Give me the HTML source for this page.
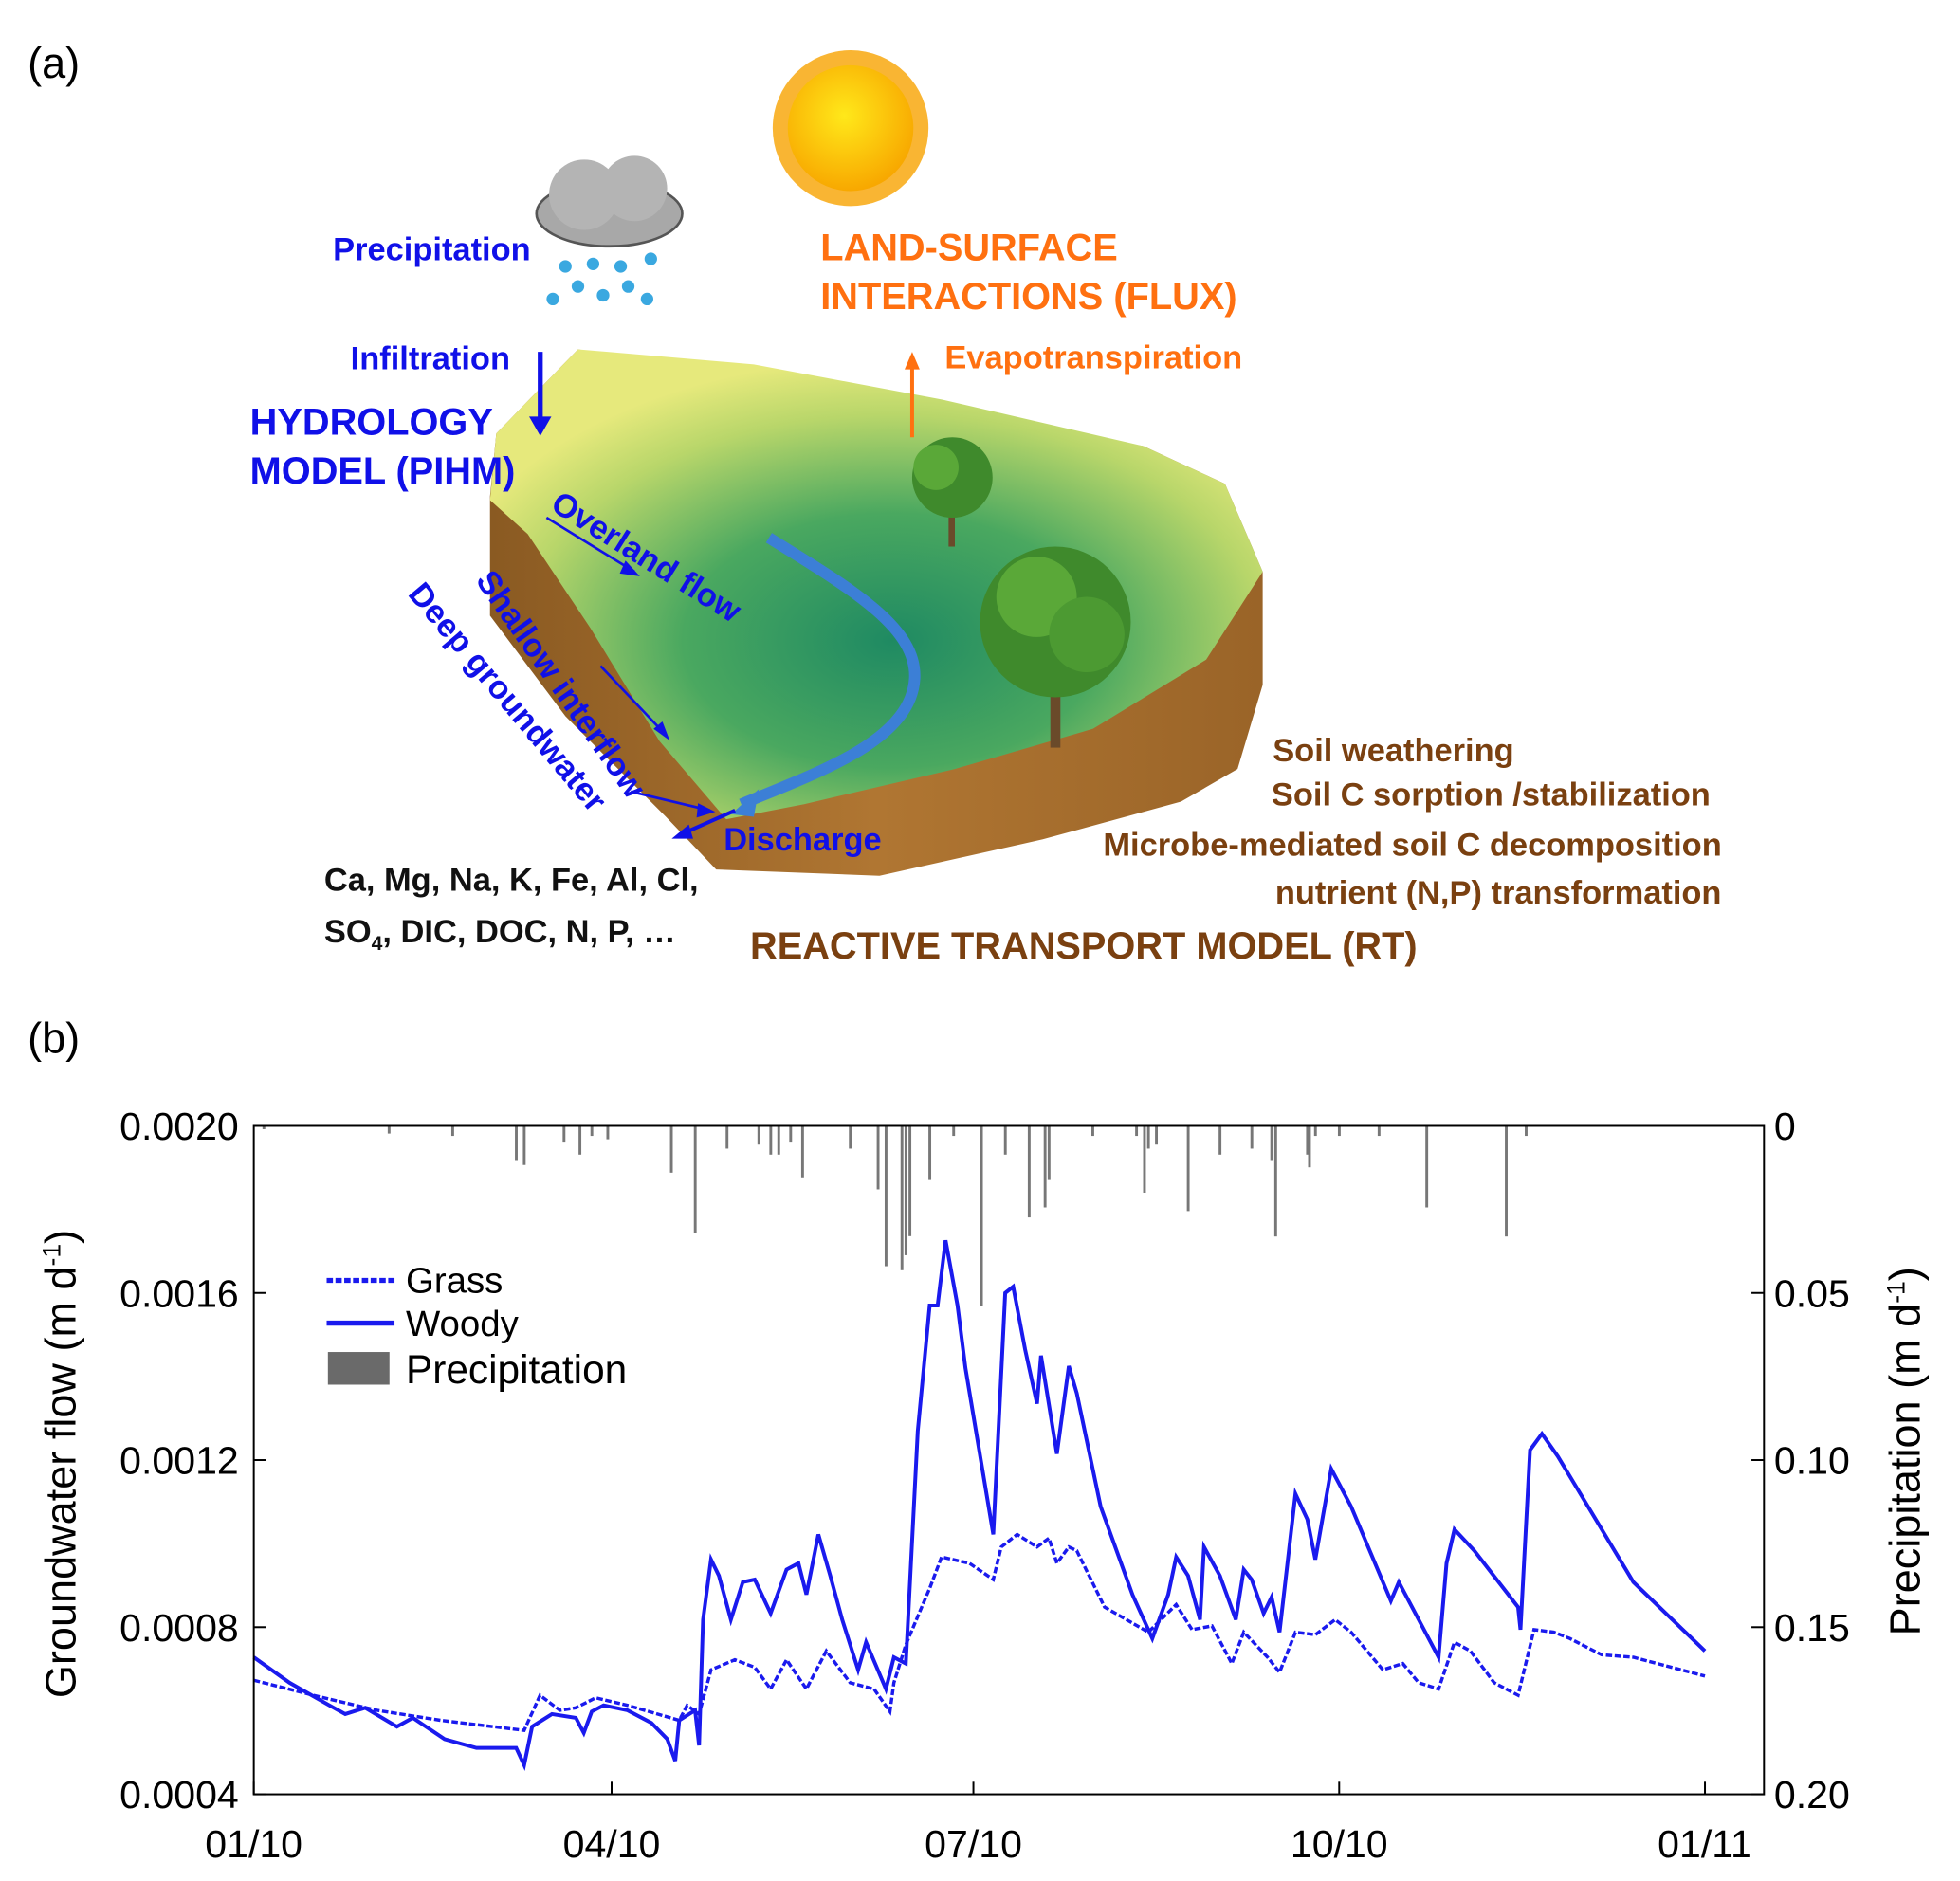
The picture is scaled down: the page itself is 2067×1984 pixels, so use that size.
<!DOCTYPE html>
<html><head><meta charset="utf-8"><style>
html,body{margin:0;padding:0;background:#fff;}
svg{display:block;font-family:"Liberation Sans",Arial,sans-serif;}
</style></head><body>
<svg id="fig" width="2067" height="1984" viewBox="0 0 1560 1497" preserveAspectRatio="none" xmlns="http://www.w3.org/2000/svg">
<defs>
<radialGradient id="gsurf" cx="0.52" cy="0.62" r="0.6">
<stop offset="0" stop-color="#1f8a62"/><stop offset="0.45" stop-color="#4aa860"/><stop offset="0.8" stop-color="#b8d66a"/><stop offset="1" stop-color="#e6e97c"/>
</radialGradient>
<linearGradient id="gsoil" x1="0" y1="0" x2="1" y2="0">
<stop offset="0" stop-color="#8a5a22"/><stop offset="0.5" stop-color="#b07632"/><stop offset="1" stop-color="#9a6428"/>
</linearGradient>
<radialGradient id="gsun" cx="0.45" cy="0.4" r="0.6"><stop offset="0" stop-color="#ffe81a"/><stop offset="1" stop-color="#f8a800"/></radialGradient>
</defs>
<text x="22" y="62" font-size="34">(a)</text>
<text x="22" y="838" font-size="34">(b)</text>

<g>
<polygon points="390,395 390,490 450,570 530,650 570,692 700,697 830,668 940,638 985,612 1005,545 1005,455 975,385 910,355 460,278 395,345" fill="url(#gsoil)"/>
<polygon points="395,345 460,278 600,290 750,318 910,355 975,385 1005,455 960,525 870,580 760,612 640,640 578,652 525,590 470,500 420,425 390,398" fill="url(#gsurf)"/>
<path d="M612,428 C680,470 730,500 728,540 C725,590 650,615 590,640" fill="none" stroke="#3c7fd6" stroke-width="9"/>
<polygon points="582,648 604,628 600,650" fill="#3c7fd6"/>
</g>
<g>
<rect x="755" y="390" width="5" height="45" fill="#6a4a2a"/><circle cx="758" cy="380" r="32" fill="#3f8a2c"/><circle cx="745" cy="372" r="18" fill="#5aa838"/>
<rect x="836" y="500" width="8" height="95" fill="#6a4a2a"/><circle cx="840" cy="495" r="60" fill="#3f8a2c"/><circle cx="825" cy="475" r="32" fill="#5aa838"/><circle cx="865" cy="505" r="30" fill="#4c9a32"/>
</g>
<g>
<circle cx="677" cy="102" r="62" fill="#f7a300" opacity="0.8"/>
<circle cx="677" cy="102" r="50" fill="url(#gsun)"/>
</g>
<g>
<ellipse cx="485" cy="170" rx="58" ry="26" fill="#a8a8a8" stroke="#555" stroke-width="2"/>
<circle cx="465" cy="155" r="28" fill="#b4b4b4"/><circle cx="505" cy="150" r="26" fill="#b4b4b4"/>
<g fill="#3aa8e0"><circle cx="440" cy="238" r="5"/><circle cx="460" cy="228" r="5"/><circle cx="480" cy="235" r="5"/><circle cx="500" cy="228" r="5"/><circle cx="515" cy="238" r="5"/><circle cx="450" cy="212" r="5"/><circle cx="472" cy="210" r="5"/><circle cx="494" cy="212" r="5"/><circle cx="518" cy="206" r="5"/></g>
</g>
<g font-weight="bold" fill="#1010e8">
<text x="265" y="207" font-size="26">Precipitation</text>
<text x="279" y="294" font-size="26">Infiltration</text>
<text x="199" y="346" font-size="30">HYDROLOGY</text>
<text x="199" y="385" font-size="30">MODEL (PIHM)</text>
<text x="437" y="405" font-size="26" transform="rotate(32 437 405)">Overland flow</text>
<text x="378" y="462" font-size="26" transform="rotate(55 378 462)">Shallow interflow</text>
<text x="324" y="473" font-size="26" transform="rotate(50 324 473)">Deep groundwater</text>
<text x="576" y="677" font-size="26">Discharge</text>
</g>
<g stroke="#1010e8" fill="#1010e8">
<line x1="430" y1="280" x2="430" y2="335" stroke-width="4"/><polygon points="422,332 438,332 430,346"/>
<line x1="435" y1="412" x2="505" y2="455" stroke-width="2"/><polygon points="498,447 508,458 494,456"/>
<line x1="478" y1="530" x2="530" y2="585" stroke-width="2"/><polygon points="521,580 532,588 527,575"/>
<line x1="502" y1="630" x2="565" y2="645" stroke-width="2"/><polygon points="556,640 568,646 555,650"/>
<line x1="585" y1="645" x2="540" y2="665" stroke-width="3"/><polygon points="548,657 536,667 551,667"/>
</g>
<g font-weight="bold" fill="#ff7010">
<text x="653" y="207" font-size="30">LAND-SURFACE</text>
<text x="653" y="246" font-size="30">INTERACTIONS (FLUX)</text>
<text x="752" y="293" font-size="26">Evapotranspiration</text>
<line x1="726" y1="348" x2="726" y2="292" stroke="#ff7010" stroke-width="3"/><polygon points="720,294 732,294 726,280"/>
</g>
<g font-weight="bold" fill="#7a4010" font-size="26">
<text x="1013" y="606">Soil weathering</text>
<text x="1012" y="641">Soil C sorption /stabilization</text>
<text x="878" y="681">Microbe-mediated soil C decomposition</text>
<text x="1015" y="719">nutrient (N,P) transformation</text>
<text x="597" y="763" font-size="30">REACTIVE TRANSPORT MODEL (RT)</text>
</g>
<g font-weight="bold" fill="#111" font-size="26">
<text x="258" y="709">Ca, Mg, Na, K, Fe, Al, Cl,</text>
<text x="258" y="750">SO<tspan font-size="16" dy="6">4</tspan><tspan dy="-6">, DIC, DOC, N, P, …</tspan></text>
</g>

<g id="chart"></g>
</svg>
<script>
const days = [0,9,19,23,28,36,40,48,56,66,68,70,75,81,83,85,88,94,100,104,106,107,111,112,113,115,117,120,123,126,130,134,137,139,142,145,148,152,154,159,161,164,167,170,172,174,177,179,186,189,191,194,197,198,202,205,207,213,221,226,230,232,235,238,239,243,247,249,251,254,256,258,262,265,267,271,276,286,288,298,300,302,307,318,318.6,321,324,328,347,365];
const woody = [0.000728,0.000667,0.000613,0.000592,0.000607,0.000562,0.000583,0.000532,0.000511,0.000511,0.00047,0.000562,0.000592,0.000583,0.000547,0.000598,0.000613,0.000601,0.000571,0.000532,0.00048,0.000577,0.000601,0.000517,0.000818,0.000962,0.000923,0.000818,0.000908,0.000914,0.000833,0.000938,0.000953,0.000878,0.001022,0.000923,0.000818,0.000698,0.000764,0.000652,0.000728,0.000713,0.001269,0.00157,0.00157,0.001726,0.00157,0.00142,0.001022,0.0016,0.001615,0.001465,0.001335,0.00145,0.001215,0.001425,0.00136,0.001089,0.000878,0.000773,0.000878,0.000968,0.000923,0.000818,0.000992,0.000923,0.000818,0.000938,0.000914,0.000833,0.000872,0.000788,0.001119,0.001058,0.000962,0.001179,0.001089,0.000863,0.000908,0.000728,0.000953,0.001034,0.000983,0.000848,0.000794,0.001224,0.001263,0.001209,0.000908,0.000743];
const grassDays = [0,15,31,47,68,72,77,81,86,94,107,109,112,115,121,126,130,134,139,144,150,156,160,161,164,170,173,180,186,188,192,197,200,202,205,207,214,225,232,236,241,246,249,255,258,262,267,272,276,284,289,293,298,302,306,312,318,322,327,331,339,347,365];
const grass = [0.000673,0.000637,0.000601,0.000577,0.000553,0.000637,0.000601,0.000607,0.000631,0.000613,0.000577,0.000613,0.000592,0.000698,0.000722,0.000704,0.000652,0.000722,0.000652,0.000743,0.000667,0.000652,0.000598,0.000667,0.000758,0.000893,0.000968,0.000953,0.000914,0.000992,0.001022,0.000992,0.001013,0.000953,0.000992,0.000983,0.000848,0.000788,0.000854,0.000794,0.000803,0.000713,0.000788,0.000728,0.000692,0.000788,0.000782,0.000818,0.000788,0.000698,0.000713,0.000667,0.000652,0.000764,0.000743,0.000667,0.000637,0.000794,0.000788,0.000773,0.000734,0.000728,0.000683];
const precipDays = [2.5,34,50,66,68,78,82,85,89,105,111,119,127,130,132,135,138,150,157,159,163,164,165,170,176,183,189,195,199,200,211,222,224,225,227,235,243,251,256,257,265,265.5,267,273,283,295,315,320];
const precip = [0.001,0.0023,0.003,0.0105,0.0117,0.005,0.0086,0.003,0.004,0.014,0.032,0.0068,0.0056,0.0086,0.0086,0.005,0.0154,0.0068,0.019,0.042,0.0432,0.0387,0.033,0.0162,0.003,0.054,0.0086,0.0274,0.0244,0.0162,0.003,0.003,0.02,0.0068,0.0056,0.0255,0.0086,0.0068,0.0105,0.0331,0.0086,0.0124,0.003,0.003,0.003,0.0244,0.0331,0.003];
const leftTicks = [0.0004,0.0008,0.0012,0.0016,0.0020];
const leftTickLabels = ["0.0004","0.0008","0.0012","0.0016","0.0020"];
const rightTicks = [0,0.05,0.10,0.15,0.20];
const rightTickLabels = ["0","0.05","0.10","0.15","0.20"];
const xTicks = [0,90,181,273,365];
const xTickLabels = ["01/10","04/10","07/10","10/10","01/11"];

const NS="http://www.w3.org/2000/svg";
const L=202,R=1404,T=896,B=1428,X0=202,X1=1357;
const xs=d=>X0+(d/365)*(X1-X0);
const yl=v=>B-(v-0.0004)/0.0016*(B-T);
const yr=v=>T+(v/0.2)*(B-T);
const g=document.getElementById('chart');
function mk(tag,attrs){const e=document.createElementNS(NS,tag);for(const k in attrs)e.setAttribute(k,attrs[k]);g.appendChild(e);return e;}

precip.forEach((p,i)=>{
  const e=mk('rect',{x:xs(precipDays[i])-1,y:T,width:2.2,height:yr(p)-T,fill:'#777'});
  
  
});
const gp=mk('polyline',{points:grassDays.map((d,i)=>xs(d)+','+yl(grass[i])).join(' '),fill:'none',stroke:'#1a1aee','stroke-width':2.6,'stroke-dasharray':'5,2'});


const wp=mk('polyline',{points:days.map((d,i)=>xs(d)+','+yl(woody[i])).join(' '),fill:'none',stroke:'#1a1aee','stroke-width':3});


const frame=mk('rect',{x:L,y:T,width:R-L,height:B-T,fill:'none',stroke:'#000','stroke-width':1.5});


leftTicks.forEach((v,i)=>{
  mk('line',{x1:L,x2:L+10,y1:yl(v),y2:yl(v),stroke:'#000','stroke-width':1.5});
  const t=mk('text',{x:L-12,y:yl(v)+11,'text-anchor':'end','font-size':31});
  t.textContent=leftTickLabels[i];
  
  
});
rightTicks.forEach((v,i)=>{
  mk('line',{x1:R-10,x2:R,y1:yr(v),y2:yr(v),stroke:'#000','stroke-width':1.5});
  const t=mk('text',{x:R+8,y:yr(v)+11,'font-size':31});
  t.textContent=rightTickLabels[i];
  
  
});
xTicks.forEach((d,i)=>{
  mk('line',{x1:xs(d),x2:xs(d),y1:B,y2:B-10,stroke:'#000','stroke-width':1.5});
  const t=mk('text',{x:xs(d),y:B+50,'text-anchor':'middle','font-size':31});
  t.textContent=xTickLabels[i];
  
  
});
const yt=mk('text',{x:60,y:1165,'text-anchor':'middle','font-size':34,transform:'rotate(-90 60 1165)'});
yt.innerHTML='Groundwater flow (m d<tspan font-size="20" dy="-12">-1</tspan><tspan dy="12">)</tspan>';


const yt2=mk('text',{x:1528,y:1155,'text-anchor':'middle','font-size':34,transform:'rotate(-90 1528 1155)'});
yt2.innerHTML='Precipitation (m d<tspan font-size="20" dy="-12">-1</tspan><tspan dy="12">)</tspan>';


// legend
const l1=mk('line',{x1:260,x2:314,y1:1019,y2:1019,stroke:'#1a1aee','stroke-width':4,'stroke-dasharray':'5,2'});


const lt1=mk('text',{x:323,y:1029,'font-size':29});lt1.textContent='Grass';


const l2=mk('line',{x1:260,x2:314,y1:1053,y2:1053,stroke:'#1a1aee','stroke-width':4});


const lt2=mk('text',{x:323,y:1063,'font-size':29});lt2.textContent='Woody';


const l3=mk('rect',{x:261,y:1076,width:49,height:26,fill:'#6a6a6a'});


const lt3=mk('text',{x:323,y:1101,'font-size':32});lt3.textContent='Precipitation';


</script>
</body></html>
